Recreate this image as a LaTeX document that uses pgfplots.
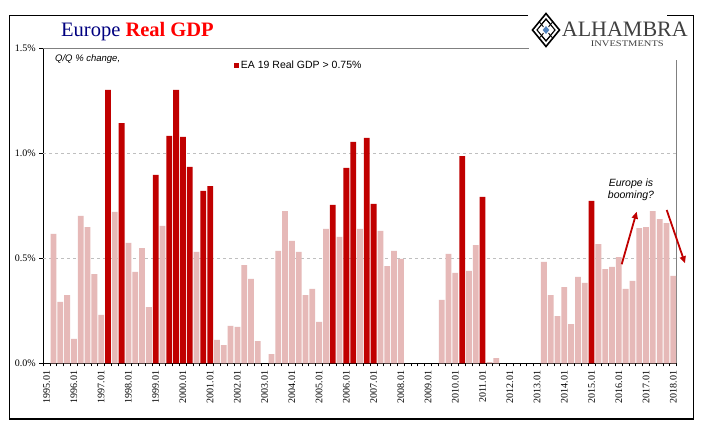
\documentclass[border=0pt]{standalone}
\usepackage{fontspec}
\setmainfont{Liberation Sans}
\newfontfamily\serif{Liberation Serif}
\usepackage{graphicx}
\usepackage{pgfplots}
\pgfplotsset{compat=1.18}
\usetikzlibrary{arrows.meta}
\definecolor{darkred}{HTML}{C00000}
\definecolor{pinkbar}{HTML}{E6B9B8}
\definecolor{navy}{HTML}{000080}
\definecolor{titlered}{HTML}{FF0000}
\definecolor{logogray}{HTML}{404040}
\definecolor{logoblue}{HTML}{4F81BD}
\definecolor{gridgray}{HTML}{BFBFBF}
\definecolor{axisgray}{HTML}{808080}
\begin{document}
\begin{tikzpicture}[x=1pt,y=1pt]
\path[use as bounding box, fill=white] (0,0) rectangle (705,441);
% outer frame
\draw[line width=1.2pt] (528,425.5) -- (9.3,425.5) -- (9.3,22) -- (693.3,22) -- (693.3,425.5) -- (667,425.5);
\begin{axis}[
  scale only axis, width=633.4pt, height=315pt,
  at={(43.3pt,77.7pt)}, anchor=south west,
  xmin=-0.5, xmax=92.5, ymin=0, ymax=1.5,
  axis lines*=left,
  axis line style={black, line width=1.2pt},
  clip=false,
  tick align=outside,
  major tick length=4pt, minor tick length=3pt,
  xtick={0,4,...,92},
  xticklabels={1995.01,1996.01,1997.01,1998.01,1999.01,2000.01,2001.01,2002.01,2003.01,2004.01,2005.01,2006.01,2007.01,2008.01,2009.01,2010.01,2011.01,2012.01,2013.01,2014.01,2015.01,2016.01,2017.01,2018.01},
  minor xtick={-0.5,0.5,...,92.5},
  major x tick style={draw=none},
  minor x tick style={black, line width=0.9pt},
  ytick={0,0.5,1,1.5},
  yticklabels={0.0\%,0.5\%,1.0\%,1.5\%},
  major y tick style={black, line width=0.9pt},
  extra y ticks={0.5,1},
  extra y tick labels={},
  extra y tick style={ymajorgrids=true, major grid style={dashed, gridgray, line width=0.9pt}},
  tick label style={font=\serif\fontsize{10}{12}\selectfont},
  xticklabel style={rotate=90, anchor=east},
  legend style={at={(0.3015,0.946)}, anchor=west, draw=none, fill=none, inner xsep=0pt, inner ysep=0pt,
    font=\fontsize{10.5}{12}\selectfont, nodes={inner xsep=1.5pt}},
  legend image code/.code={\fill[darkred] (0pt,-2.5pt) rectangle (5pt,2.5pt);},
]
\draw[axisgray, line width=1pt] (rel axis cs:0,1) -- (axis cs:70.8,1.5);
\draw[axisgray, line width=1pt] (rel axis cs:1,0) -- (rel axis cs:1,0.962);
\addplot[ybar, bar width=0.85, bar shift=0pt, fill=pinkbar, draw=none, forget plot] coordinates {
(1,0.616) (2,0.292) (3,0.325) (4,0.116) (5,0.702) (6,0.649) (7,0.425) (8,0.230)
(10,0.721) (12,0.573) (13,0.435) (14,0.549) (15,0.268) (17,0.654) (22,0.530)
(25,0.111) (26,0.087) (27,0.178) (28,0.173) (29,0.468) (30,0.402) (31,0.106)
(33,0.044) (34,0.535) (35,0.725) (36,0.583) (37,0.530) (38,0.325) (39,0.354) (40,0.197) (41,0.640)
(43,0.602) (46,0.640) (49,0.630) (50,0.463) (51,0.535) (52,0.497)
(58,0.302) (59,0.521) (60,0.430) (62,0.440) (63,0.563) (65,0.006) (66,0.025)
(73,0.483) (74,0.325) (75,0.225) (76,0.363) (77,0.187) (78,0.411) (79,0.383)
(81,0.568) (82,0.449) (83,0.459) (84,0.506) (85,0.354) (86,0.392) (87,0.644) (88,0.649)
(89,0.725) (90,0.687) (91,0.668) (92,0.416)
};
\addplot[ybar, bar width=0.85, bar shift=0pt, fill=darkred, draw=none] coordinates {
(9,1.302) (11,1.144) (16,0.897) (18,1.083) (19,1.302) (20,1.078) (21,0.935) (23,0.821) (24,0.844)
(42,0.754) (44,0.930) (45,1.054) (47,1.073) (48,0.759)
(61,0.987) (64,0.792) (80,0.773)
};
\addlegendentry{EA 19 Real GDP > 0.75\%}
\end{axis}
% title
\node[anchor=base west, inner sep=0pt] at (61,404) {\serif\fontsize{20.5}{24}\selectfont\color{navy}Europe \color{titlered}\bfseries Real GDP};
% subtitle
\node[anchor=base west, inner sep=0pt] at (55,379.3) {\fontsize{9.5}{11}\selectfont\itshape Q/Q \% change,};
% annotation
\node[anchor=base, inner sep=0pt] at (631,254.3) {\fontsize{10.5}{12}\selectfont\itshape Europe is};
\node[anchor=base, inner sep=0pt] at (631,242.7) {\fontsize{10.5}{12}\selectfont\itshape booming?};
\draw[darkred, line width=1.8pt, -{Triangle[length=7pt,width=6pt]}] (621.7,176.7) -- (636.7,229.3);
\draw[darkred, line width=1.8pt, -{Triangle[length=7pt,width=6pt]}] (666.7,231) -- (685,177.7);
% logo
\begin{scope}[shift={(546,411)}]
\draw[line width=1.6pt] (0,16.5) -- (13.5,0) -- (0,-16.5) -- (-13.5,0) -- cycle;
\draw[line width=1.1pt] (0,11) -- (9,0) -- (0,-11) -- (-9,0) -- cycle;
\draw[line width=0.9pt] (-6.75,8.25) -- (6.75,-8.25) (6.75,8.25) -- (-6.75,-8.25);
\draw[line width=0.9pt] (-4.5,5.5) -- (0,11) -- (4.5,5.5) (-4.5,-5.5) -- (0,-11) -- (4.5,-5.5);
\fill[white] (0,6) -- (5,0) -- (0,-6) -- (-5,0) -- cycle;
\fill[logoblue] (0,4) -- (3.3,0) -- (0,-4) -- (-3.3,0) -- cycle;
\end{scope}
\node[anchor=base west, inner sep=0pt] at (561.7,404.5) {\serif\fontsize{22}{26}\selectfont\color{logogray}ALHAMBRA};
\node[anchor=base west, inner sep=0pt] at (590.7,394.3) {\scalebox{1.22}[1]{\serif\fontsize{8.6}{10}\selectfont\color{logogray}INVESTMENTS}};
\end{tikzpicture}
\end{document}
